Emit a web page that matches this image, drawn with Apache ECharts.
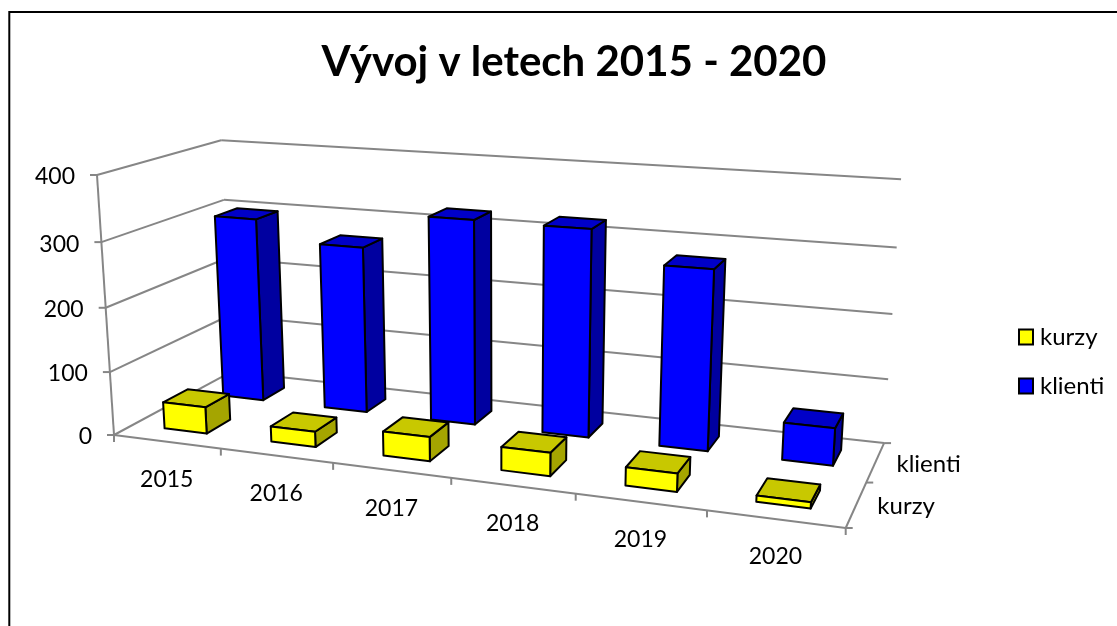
<!DOCTYPE html>
<html>
<head>
<meta charset="utf-8">
<title>Vývoj v letech 2015 - 2020</title>
<style>
html, body { margin: 0; padding: 0; background: #fff; }
#chart { width: 1117px; height: 626px; }
</style>
<script src="https://cdn.jsdelivr.net/npm/echarts@6/dist/echarts.min.js"></script>
</head>
<body>
<div id="chart"></div>
<script>
var years = ['2015', '2016', '2017', '2018', '2019', '2020'];
var kurzy = [42, 24, 37, 35, 27, 9];
var klienti = [299, 267, 323, 322, 276, 57];
var valueTicks = [0, 100, 200, 300, 400];
var rows = ['kurzy', 'klienti'];

// corners of the 3D box on screen, and how strongly each axis recedes
var O = [114, 435], X = [845.7, 528], Y = [231.6, 371.7], Z = [97, 175];
var A = -0.145, B = 0.13, C = -0.042;

var NUMBER_FONT = '23px Lato';
var WORD_FONT = '24px Lato';
var GRID_LINE = '#868686';

function project(u, v, w) {
    var d = 1 + A * u + B * v + C * w;
    function axis(i) {
        return (O[i] + u * ((1 + A) * X[i] - O[i]) + v * ((1 + B) * Y[i] - O[i]) + w * ((1 + C) * Z[i] - O[i])) / d;
    }
    return [axis(0), axis(1)];
}

// the hidden grid gives the scales, project() then lays them into the box
function toU(api, rect, index) {
    return (api.coord([index, 0])[0] - rect.x) / rect.width;
}
function toW(api, rect, value) {
    return (rect.y + rect.height - api.coord([0, value])[1]) / rect.height;
}

function line(a, b) {
    return {
        type: 'line',
        shape: { x1: a[0], y1: a[1], x2: b[0], y2: b[1] },
        style: { stroke: GRID_LINE, lineWidth: 2 }
    };
}
function label(text, p, align, font) {
    return {
        type: 'text',
        style: { text: text, x: p[0], y: p[1], font: font, fill: '#000', align: align, verticalAlign: 'middle' }
    };
}
function face(points, fill) {
    return {
        type: 'polygon',
        shape: { points: points },
        style: { fill: fill, stroke: '#000', lineWidth: 2, lineJoin: 'round' }
    };
}

function renderFrame(params, api) {
    var rect = params.coordSys;
    var children = [];
    var band = api.size([1, 0])[0] / rect.width;

    valueTicks.forEach(function (tick) {
        var w = toW(api, rect, tick);
        var front = project(0, 0, w);
        children.push(line(project(0, 0, w), project(0, 1, w)));
        children.push(line(project(0, 1, w), project(1, 1, w)));
        children.push(line([front[0] - 7, front[1]], front));
        children.push(label(String(tick), [front[0] - 22, front[1] + 2], 'right', NUMBER_FONT));
    });
    children.push(line(project(0, 0, 0), project(0, 0, 1)));
    children.push(line(project(0, 0, 0), project(1, 0, 0)));
    children.push(line(project(1, 0, 0), project(1, 1, 0)));

    for (var i = 0; i <= years.length; i++) {
        var p = project(i * band, 0, 0);
        children.push(line(p, [p[0], p[1] + 7]));
    }
    years.forEach(function (year, index) {
        var p = project(toU(api, rect, index), 0, 0);
        children.push(label(year, [p[0], p[1] + 38], 'center', NUMBER_FONT));
    });
    [0, 0.5, 1].forEach(function (v) {
        var p = project(1, v, 0);
        children.push(line(p, [p[0] + 7, p[1]]));
    });
    rows.forEach(function (name, index) {
        var p = project(1, (index + 0.5) / rows.length, 0);
        children.push(label(name, [p[0] + 21, p[1] + 2], 'left', WORD_FONT));
    });
    return { type: 'group', children: children };
}

function barRenderer(rowIndex, colors) {
    return function (params, api) {
        var rect = params.coordSys;
        var u = toU(api, rect, api.value(0));
        var half = api.size([1, 0])[0] / rect.width * 0.2;
        var w = toW(api, rect, api.value(1));
        var v = (rowIndex + 0.5) / rows.length;
        var u0 = u - half, u1 = u + half, v0 = v - 0.1, v1 = v + 0.1;
        return {
            type: 'group',
            children: [
                face([project(u1, v0, 0), project(u1, v1, 0), project(u1, v1, w), project(u1, v0, w)], colors.side),
                face([project(u0, v0, w), project(u1, v0, w), project(u1, v1, w), project(u0, v1, w)], colors.top),
                face([project(u0, v0, 0), project(u1, v0, 0), project(u1, v0, w), project(u0, v0, w)], colors.front)
            ]
        };
    };
}

function barData(values) {
    return values.map(function (value, index) {
        return [index, value];
    });
}

var myChart = echarts.init(document.getElementById('chart'));
var option = {
    animation: false,
    title: {
        text: 'Vývoj v letech 2015 - 2020',
        left: 569,
        top: 36,
        textAlign: 'center',
        textStyle: { fontFamily: 'Lato', fontWeight: 'bold', fontSize: 42, color: '#000' }
    },
    legend: {
        data: rows,
        orient: 'vertical',
        left: 1013,
        top: 320,
        itemWidth: 14,
        itemHeight: 15,
        itemGap: 25,
        icon: 'rect',
        textStyle: { fontFamily: 'Lato', fontSize: 24, color: '#000', padding: [0, 0, 0, 2] }
    },
    grid: { left: 100, top: 100, width: 600, height: 300 },
    xAxis: { type: 'category', data: years, show: false },
    yAxis: { type: 'value', min: 0, max: 400, interval: 100, show: false },
    graphic: [{
        type: 'rect',
        silent: true,
        shape: { x: 9.3, y: 12, width: 1300, height: 800 },
        style: { fill: 'none', stroke: '#000', lineWidth: 2 }
    }],
    series: [
        {
            name: 'frame',
            type: 'custom',
            z: 1,
            silent: true,
            renderItem: renderFrame,
            data: [[0, 0]]
        },
        {
            name: 'kurzy',
            type: 'custom',
            z: 3,
            itemStyle: { color: '#ffff00', borderColor: '#000', borderWidth: 2 },
            renderItem: barRenderer(0, { front: '#ffff00', top: '#c8c800', side: '#a5a500' }),
            data: barData(kurzy)
        },
        {
            name: 'klienti',
            type: 'custom',
            z: 2,
            itemStyle: { color: '#0000ff', borderColor: '#000', borderWidth: 2 },
            renderItem: barRenderer(1, { front: '#0000ff', top: '#0000c8', side: '#0000a0' }),
            data: barData(klienti)
        }
    ]
};
myChart.setOption(option);
window.addEventListener('resize', function () {
    myChart.resize();
});
</script>
</body>
</html>
